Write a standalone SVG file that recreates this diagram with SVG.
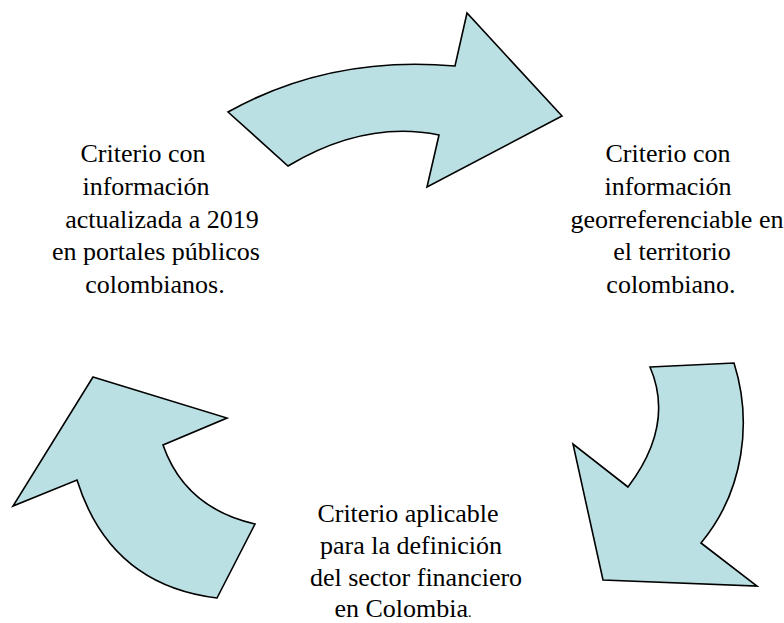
<svg xmlns="http://www.w3.org/2000/svg" width="784" height="623" viewBox="0 0 784 623">
<style>
.arrow{fill:#BBE0E3;stroke:#000;stroke-width:1.6;stroke-linejoin:miter}
.lbl{font-size:26px;fill:#000;text-anchor:middle}
</style>
<rect width="784" height="623" fill="#fff"/>
<g id="connectors">
<path id="arrow-top" class="arrow" d="M228,112 Q330,55 455,66 L467,13 L562,116 L427,187 L439,135 Q365,120 288,166 Z"/>
<path id="arrow-right" class="arrow" d="M650,367 L734,363 C752,420 745,490 701,543 L757,586 L603,580 L573,444 L628,487 Q675,425 650,367 Z"/>
<path id="arrow-left" class="arrow" d="M93,377 L227,418 L163,445 Q185,508 255,524 L217,598 Q110,585 77,480 L13,506 Z"/>
</g>
<g id="node-left" font-family="'Liberation Serif', 'Times New Roman', 'DejaVu Serif', serif">
<text class="lbl" x="143" y="162">Criterio con</text>
<text class="lbl" x="146" y="195">información</text>
<text class="lbl" x="162" y="228">actualizada a 2019</text>
<text class="lbl" x="156" y="260">en portales públicos</text>
<text class="lbl" x="155" y="293">colombianos.</text>
</g>
<g id="node-right" font-family="'Liberation Serif', 'Times New Roman', 'DejaVu Serif', serif">
<text class="lbl" x="668" y="162">Criterio con</text>
<text class="lbl" x="668" y="195">información</text>
<text class="lbl" x="677" y="228">georreferenciable en</text>
<text class="lbl" x="672" y="260">el territorio</text>
<text class="lbl" x="671" y="293">colombiano.</text>
</g>
<g id="node-bottom" font-family="'Liberation Serif', 'Times New Roman', 'DejaVu Serif', serif">
<text class="lbl" x="408" y="522">Criterio aplicable</text>
<text class="lbl" x="411" y="554">para la definición</text>
<text class="lbl" x="416" y="586">del sector financiero</text>
<text class="lbl" x="403" y="617">en Colombia<tspan font-size="14">.</tspan></text>
</g>
</svg>
